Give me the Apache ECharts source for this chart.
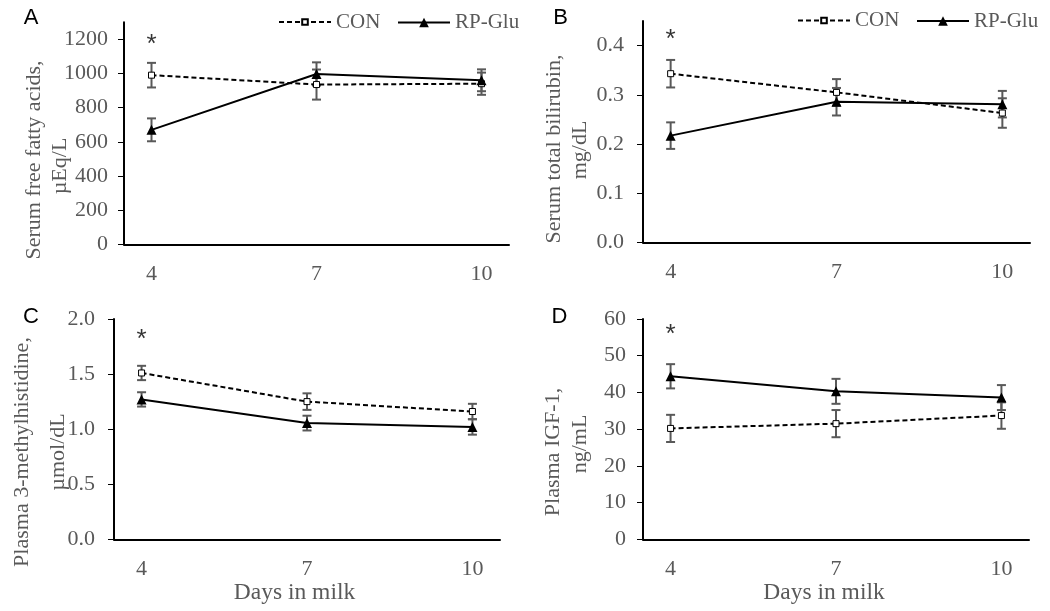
<!DOCTYPE html>
<html><head><meta charset="utf-8">
<script src="https://cdn.jsdelivr.net/npm/echarts@6/dist/echarts.min.js"></script>
<style>html,body{margin:0;padding:0;background:#fff}#c{width:1050px;height:611px}</style>
</head><body><div id="c"></div>
<script>
// ---- data ----
const days = [4, 7, 10];
const xTickValues = [4, 7, 10];
const seriesNames = ['CON', 'RP-Glu'];

// A: Serum free fatty acids
const ffaCON = [990, 935, 940];
const ffaCONse = [72, 88, 65];
const ffaRP = [670, 997, 960];
const ffaRPse = [67, 68, 64];
const ffaTicks = [0, 200, 400, 600, 800, 1000, 1200];
const ffaStar = [4, 1186];

// B: Serum total bilirubin
const bilCON = [0.343, 0.305, 0.263];
const bilCONse = [0.028, 0.027, 0.030];
const bilRP = [0.217, 0.286, 0.281];
const bilRPse = [0.027, 0.028, 0.027];
const bilTicks = [0, 0.1, 0.2, 0.3, 0.4];
const bilStar = [4, 0.418];

// C: Plasma 3-methylhistidine
const mhCON = [1.51, 1.25, 1.16];
const mhCONse = [0.065, 0.075, 0.07];
const mhRP = [1.27, 1.055, 1.02];
const mhRPse = [0.065, 0.067, 0.07];
const mhTicks = [0, 0.5, 1.0, 1.5, 2.0];
const mhStar = [4, 1.84];

// D: Plasma IGF-1
const igfCON = [30.2, 31.5, 33.7];
const igfCONse = [3.7, 3.7, 3.6];
const igfRP = [44.4, 40.3, 38.6];
const igfRPse = [3.3, 3.4, 3.4];
const igfTicks = [0, 10, 20, 30, 40, 50, 60];
const igfStar = [4, 56.6];

// ---- layout / style ----
const SERIF = 'Liberation Serif';
const SANS = 'Liberation Sans';
const GREY = '#595959';

const panels = [
  {con: ffaCON, conSe: ffaCONse, rp: ffaRP, rpSe: ffaRPse, ticks: ffaTicks, star: ffaStar, dec: 0,
   grid: {left: 124, top: 22.2, width: 385, height: 222.1}, yMax: 1300, labelMargin: 16},
  {con: bilCON, conSe: bilCONse, rp: bilRP, rpSe: bilRPse, ticks: bilTicks, star: bilStar, dec: 1,
   grid: {left: 643, top: 21.1, width: 387, height: 221.2}, yMax: 0.45, labelMargin: 19},
  {con: mhCON, conSe: mhCONse, rp: mhRP, rpSe: mhRPse, ticks: mhTicks, star: mhStar, dec: 1,
   grid: {left: 114, top: 319, width: 386, height: 220.3}, yMax: 2.0, labelMargin: 19},
  {con: igfCON, conSe: igfCONse, rp: igfRP, rpSe: igfRPse, ticks: igfTicks, star: igfStar, dec: 0,
   grid: {left: 643, top: 319, width: 386, height: 220.3}, yMax: 60, labelMargin: 17}
];

function renderErr(params, api) {
  const x = api.value(0);
  const lo = api.coord([x, api.value(1)]);
  const hi = api.coord([x, api.value(2)]);
  const w = 4.5;
  const st = {stroke: GREY, lineWidth: 2};
  return {type: 'group', children: [
    {type: 'line', shape: {x1: hi[0], y1: hi[1], x2: lo[0], y2: lo[1]}, style: st},
    {type: 'line', shape: {x1: hi[0] - w, y1: hi[1], x2: hi[0] + w, y2: hi[1]}, style: st},
    {type: 'line', shape: {x1: lo[0] - w, y1: lo[1], x2: lo[0] + w, y2: lo[1]}, style: st}
  ]};
}

const option = {
  animation: false,
  backgroundColor: '#fff',
  grid: [], xAxis: [], yAxis: [], series: [], legend: [], graphic: []
};

panels.forEach((p, i) => {
  option.grid.push(p.grid);
  option.xAxis.push({
    type: 'value', gridIndex: i, min: 3.5, max: 10.5,
    axisLine: {show: true, onZero: false, lineStyle: {color: '#000', width: 2}},
    axisTick: {show: false}, splitLine: {show: false},
    axisLabel: {customValues: xTickValues, margin: 19, color: GREY, fontFamily: SERIF, fontSize: 22}
  });
  option.yAxis.push({
    type: 'value', gridIndex: i, min: 0, max: p.yMax,
    axisLine: {show: true, lineStyle: {color: '#000', width: 2}},
    axisTick: {show: true, customValues: p.ticks, length: 6, lineStyle: {color: '#000', width: 1}},
    splitLine: {show: false},
    axisLabel: {customValues: p.ticks, margin: p.labelMargin, color: GREY, fontFamily: SERIF, fontSize: 22,
      formatter: v => Number(v).toFixed(p.dec)}
  });
  option.series.push({
    type: 'custom', name: 'CON SE', xAxisIndex: i, yAxisIndex: i, z: 1,
    renderItem: renderErr, encode: {x: 0, y: [1, 2]},
    data: days.map((d, j) => [d, p.con[j] - p.conSe[j], p.con[j] + p.conSe[j]])
  });
  option.series.push({
    type: 'custom', name: 'RP-Glu SE', xAxisIndex: i, yAxisIndex: i, z: 1,
    renderItem: renderErr, encode: {x: 0, y: [1, 2]},
    data: days.map((d, j) => [d, p.rp[j] - p.rpSe[j], p.rp[j] + p.rpSe[j]])
  });
  option.series.push({
    type: 'line', name: seriesNames[0], xAxisIndex: i, yAxisIndex: i, z: 3,
    data: days.map((d, j) => [d, p.con[j]]),
    symbol: 'rect', symbolSize: 6, showAllSymbol: true,
    itemStyle: {color: '#fff', borderColor: '#000', borderWidth: 1},
    lineStyle: {color: '#000', width: 2, type: [5, 3]}
  });
  option.series.push({
    type: 'line', name: seriesNames[1], xAxisIndex: i, yAxisIndex: i, z: 3,
    data: days.map((d, j) => [d, p.rp[j]]),
    symbol: 'triangle', symbolSize: 10, showAllSymbol: true,
    itemStyle: {color: '#000', borderColor: '#000', borderWidth: 0},
    lineStyle: {color: '#000', width: 2}
  });
  option.series.push({
    type: 'scatter', name: 'sig', xAxisIndex: i, yAxisIndex: i, z: 4,
    data: [p.star], symbolSize: 1, itemStyle: {color: 'rgba(0,0,0,0)'},
    label: {show: true, position: 'inside', formatter: '*', color: '#000', fontFamily: SANS, fontSize: 26, offset: [0, 3]}
  });
});

const legText = {fontFamily: SERIF, fontSize: 21, color: GREY};
function leg(name, left, top, h) {
  return {data: [name], left: left, top: top, itemWidth: 52, itemHeight: h, padding: 0, itemGap: 0,
    selectedMode: false, textStyle: legText};
}
option.legend = [
  leg('CON', 278, 11.5, 7), leg('RP-Glu', 397, 12, 12),
  leg('CON', 797, 10, 7), leg('RP-Glu', 916, 10.5, 12)
];

function txt(t, x, y, opts, size) {
  return Object.assign({type: 'text', x: x, y: y, style: {text: t, fontFamily: SERIF, fontSize: size || 22, fill: GREY,
    align: 'center', verticalAlign: 'middle'}}, opts || {});
}
function ytxt(t, x, y) { return txt(t, x, y, {rotation: Math.PI / 2}); }
function letter(t, x, y) {
  return {type: 'text', x: x, y: y, style: {text: t, fontFamily: SANS, fontSize: 22, fill: '#000', align: 'center', verticalAlign: 'middle'}};
}
option.graphic = [
  letter('A', 31, 18), letter('B', 560.5, 18), letter('C', 31, 316.5), letter('D', 559.5, 316.5),
  ytxt('Serum free fatty acids,', 34, 160), ytxt('µEq/L', 60, 166),
  ytxt('Serum total bilirubin,', 554, 149), ytxt('mg/dL', 580, 150),
  ytxt('Plasma 3-methylhistidine,', 22, 452), ytxt('µmol/dL', 58, 452),
  ytxt('Plasma IGF-1,', 553, 452), ytxt('ng/mL', 580, 444),
  txt('Days in milk', 294.5, 593, null, 23.5), txt('Days in milk', 824, 593, null, 23.5)
];

const chart = echarts.init(document.getElementById('c'), null, {renderer: 'canvas'});
chart.setOption(option);
</script>
</body></html>
